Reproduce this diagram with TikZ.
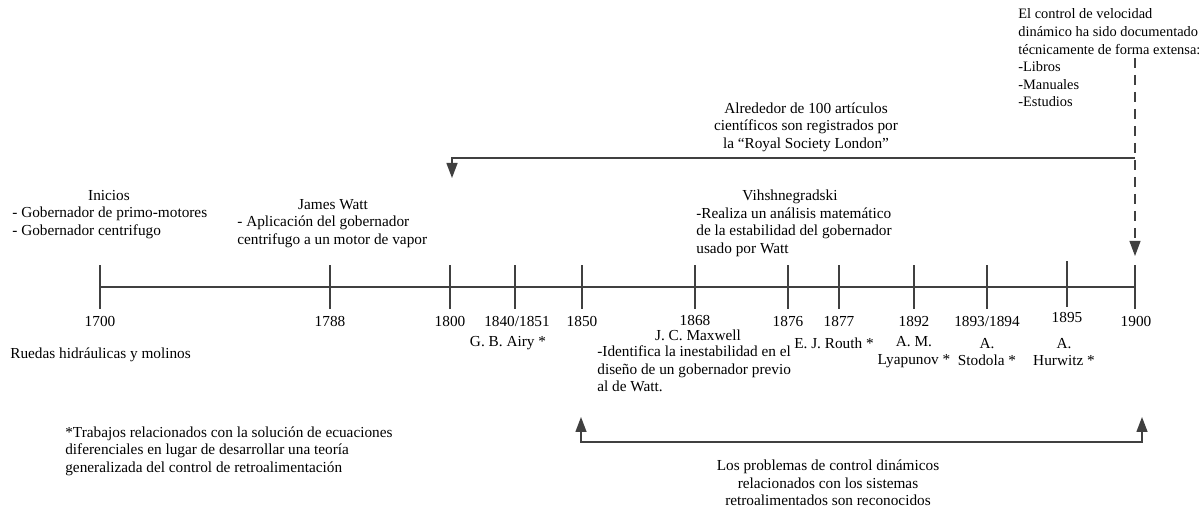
\documentclass[tikz,border=0pt]{standalone}
\usepackage{fontspec}
\setmainfont{Liberation Serif}
\usetikzlibrary{arrows.meta}

\begin{document}
\begin{tikzpicture}
	\definecolor{linegray}{RGB}{64,64,64}
	\tikzset{
		every node/.style={font=\fontsize{8.7}{10}\selectfont, inner sep=0pt},
		axis/.style={linegray, line width=1.5pt},
		connector/.style={linegray, line width=0.8pt, -{Triangle[length=0.3cm,width=0.22cm]}},
		body/.style={anchor=west, align=left},
		author/.style={align=center}
	}
	\useasboundingbox (0,0) rectangle (24.04,10.16);

	% timeline and ticks
	\draw[axis] (2.0,4.42) -- (22.7,4.42);
	\draw[axis] (2.0,3.98) -- (2.0,4.86);
	\draw[axis] (6.6,3.98) -- (6.6,4.86);
	\draw[axis] (9.0,3.98) -- (9.0,4.86);
	\draw[axis] (10.3,3.98) -- (10.3,4.86);
	\draw[axis] (11.64,3.98) -- (11.64,4.86);
	\draw[axis] (13.9,3.98) -- (13.9,4.86);
	\draw[axis] (15.76,3.98) -- (15.76,4.86);
	\draw[axis] (16.78,3.98) -- (16.78,4.86);
	\draw[axis] (18.28,3.98) -- (18.28,4.86);
	\draw[axis] (19.74,3.98) -- (19.74,4.86);
	\draw[axis] (21.34,4.02) -- (21.34,4.94);
	\draw[axis] (22.7,3.98) -- (22.7,4.86);

	% years
	\node (y1700) at (2.0,3.74) {1700};
	\node (y1788) at (6.6,3.74) {1788};
	\node (y1800) at (9.0,3.74) {1800};
	\node (y1840) at (10.34,3.74) {1840/1851};
	\node (y1850) at (11.64,3.74) {1850};
	\node (y1868) at (13.9,3.76) {1868};
	\node (y1876) at (15.76,3.74) {1876};
	\node (y1877) at (16.78,3.74) {1877};
	\node (y1892) at (18.28,3.74) {1892};
	\node (y1893) at (19.74,3.74) {1893/1894};
	\node (y1895) at (21.34,3.82) {1895};
	\node (y1900) at (22.72,3.74) {1900};

	% events above the line
	\node (inicios) at (2.18,6.24) {Inicios};
	\node[body] (iniciosb) at (0.24,5.70) {- Gobernador de primo-motores\\- Gobernador centrifugo};
	\node (watt) at (6.66,6.06) {James Watt};
	\node[body] (wattb) at (4.74,5.52) {- Aplicación del gobernador\\centrifugo a un motor de vapor};
	\node (vihsh) at (15.8,6.22) {Vihshnegradski};
	\node[body] (vihshb) at (13.92,5.52) {-Realiza un análisis matemático\\de la estabilidad del gobernador\\usado por Watt};
	\node[author] (royaltxt) at (16.12,7.62) {Alrededor de 100 artículos\\científicos son registrados por\\la “Royal Society London”};
	\node[body, font=\fontsize{8.2}{10}\selectfont] (doctxt) at (20.36,9.0) {El control de velocidad\\dinámico ha sido documentado\\técnicamente de forma extensa:\\-Libros\\-Manuales\\-Estudios};

	% events below the line
	\node[body] (ruedas) at (0.2,3.06) {Ruedas hidráulicas y molinos};
	\node (airy) at (10.16,3.3) {G. B. Airy *};
	\node (maxwell) at (13.96,3.46) {J. C. Maxwell};
	\node[body] (maxwellb) at (11.94,2.78) {-Identifica la inestabilidad en el\\diseño de un gobernador previo\\al de Watt.};
	\node (routh) at (16.68,3.3) {E. J. Routh *};
	\node[author] (lyapunov) at (18.28,3.12) {A. M.\\Lyapunov *};
	\node[author] (stodola) at (19.74,3.12) {A.\\Stodola *};
	\node[author] (hurwitz) at (21.28,3.12) {A.\\Hurwitz *};
	\node[body] (nota) at (1.3,1.14) {*Trabajos relacionados con la solución de ecuaciones\\diferenciales en lugar de desarrollar una teoría\\generalizada del control de retroalimentación};
	\node[author] (feedback) at (16.56,0.5) {Los problemas de control dinámicos\\relacionados con los sistemas\\retroalimentados son reconocidos};

	% connectors
	\coordinate (dashtop) at (22.7,9.0);
	\coordinate (dashend) at (22.7,5.04);
	\coordinate (royalstart) at (22.7,7.0);
	\coordinate (royalend) at (9.04,6.6);
	\coordinate (fbleft) at (11.62,1.82);
	\coordinate (fbmid) at (16.56,1.32);
	\coordinate (fbright) at (22.84,1.82);

	\draw[connector, line width=0.6pt, dash pattern=on 0.2cm off 0.14cm] (dashtop) -- (dashend);
	\draw[connector] (royalstart) -| (royalend);
	\draw[connector, {Triangle[length=0.3cm,width=0.22cm]}-{Triangle[length=0.3cm,width=0.22cm]}] (fbleft) |- (fbmid) -| (fbright);
\end{tikzpicture}
\end{document}
